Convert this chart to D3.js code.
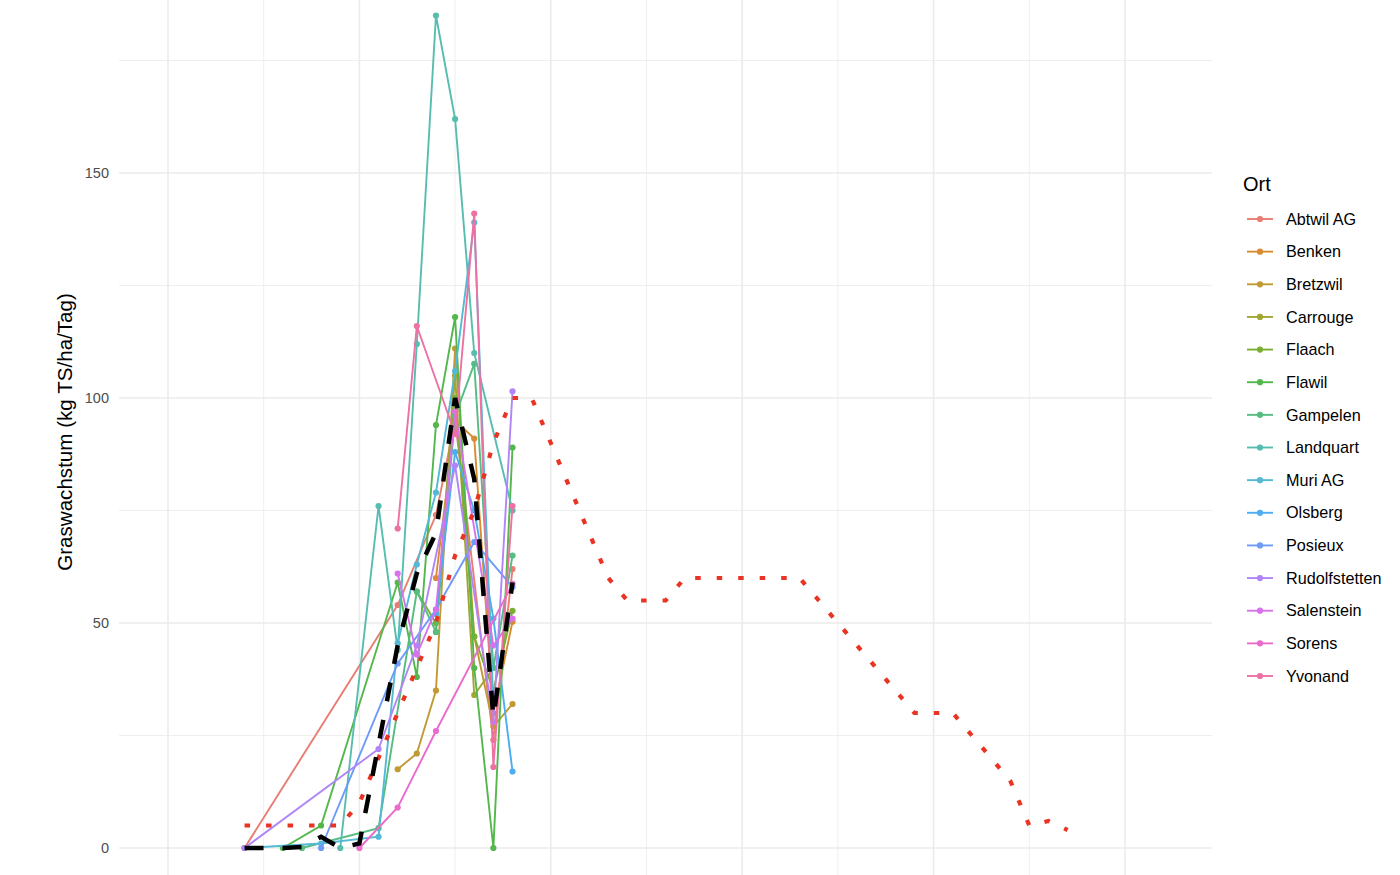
<!DOCTYPE html>
<html>
<head>
<meta charset="utf-8">
<script src="https://cdn.jsdelivr.net/npm/d3@7"></script>
<style>
  html, body { margin: 0; padding: 0; background: #ffffff; }
  svg { display: block; font-family: "Liberation Sans", Arial, Helvetica, sans-serif; }
</style>
</head>
<body>
<svg id="chart" width="1400" height="875"></svg>
<script>
// ---------------- data ----------------
const orte = ["Abtwil AG","Benken","Bretzwil","Carrouge","Flaach","Flawil","Gampelen","Landquart",
              "Muri AG","Olsberg","Posieux","Rudolfstetten","Salenstein","Sorens","Yvonand"];
const palette = ["#F8766D","#E58700","#C99800","#A3A500","#6BB100","#00BA38","#00BF7D","#00C0AF",
                 "#00BCD8","#00B0F6","#619CFF","#B983FF","#E76BF3","#FD61D1","#FF67A4"];
// calendar weeks of the measurements
const weeks = [4, 6, 7, 8, 9, 10, 11, 12, 13, 14, 15, 16, 17, 18];
// growth per site, aligned with weeks (null = no measurement)
const abtwil        = [0, null, null, null, null, null, null, 54, null, 74, 95, null, 24, 62];
const benken        = [null, null, null, null, null, null, null, null, null, 60, 95, 91, 30, 50.3];
const bretzwil      = [null, null, null, null, null, null, null, 17.5, 21, 35, 111, 47, 27, 32];
const carrouge      = [null, null, null, null, null, null, null, null, null, 48, 105, 34, 40, null];
const flaach        = [null, null, null, null, null, null, null, null, 57, 50, 100, 47, 35, 52.7];
const flawil        = [null, 0, null, 5, null, null, null, 59, 38, 94, 118, 40, 0, 89];
const gampelen      = [null, null, 0, null, null, null, 4.4, null, 57, 48, 96, 107.6, 40, 65];
const landquart     = [null, null, null, null, 0, null, 76, 44, 112, 185, 162, 110, null, 75];
const muri          = [0, null, null, 1, null, null, 2.5, 45.5, 63, 79, 106, 139, 32, null];
const olsberg       = [null, null, null, null, null, null, null, null, null, 52, 88, 75, 51, 17];
const posieux       = [null, null, null, 0, null, null, null, 41, null, 53, null, 68, null, 58];
const rudolfstetten = [0, null, null, null, null, null, 22, null, 45, null, 85, null, 28, 101.5];
const salenstein    = [null, null, null, null, null, null, null, 61, 43, 53, 97, null, 45, 51];
const sorens        = [null, null, null, null, null, 0, null, 9, null, 26, null, null, null, 58.7];
const yvonand       = [null, null, null, null, null, null, null, 71, 116, null, 92, 141, 18, 76];
const seriesValues = [abtwil, benken, bretzwil, carrouge, flaach, flawil, gampelen, landquart,
                      muri, olsberg, posieux, rudolfstetten, salenstein, sorens, yvonand];
// mean of all sites (black dashed)
const meanValues = [0, 0, 0.2, 2.5, 0, 1, 23, 45, 61, 70, 100, 82, 29, 59];
// reference curve (red dotted), weeks 4..47
const refWeeks  = d3.range(4, 48);
const refValues = [5, 5, 5, 5, 5, 5, 10, 20, 30, 40, 50, 65, 75, 90, 100, 100, 90, 80, 70, 60,
                   55, 55, 55, 60, 60, 60, 60, 60, 60, 60, 55, 50, 45, 40, 35, 30, 30, 30, 25, 20,
                   15, 5, 6, 4];
const yTicks = [0, 50, 100, 150];
const yTitle = "Graswachstum (kg TS/ha/Tag)";
const legendTitle = "Ort";

// the reference screenshot was taken on a wide-gamut (P3) screen: re-express sRGB colours that way
function toP3(hex) {
  const c = d3.rgb(hex);
  const lin = v => { v /= 255; return v <= 0.04045 ? v / 12.92 : Math.pow((v + 0.055) / 1.055, 2.4); };
  const enc = v => { v = Math.max(0, Math.min(1, v)); return 255 * (v <= 0.0031308 ? 12.92 * v : 1.055 * Math.pow(v, 1 / 2.4) - 0.055); };
  const r = lin(c.r), g = lin(c.g), b = lin(c.b);
  const R = 0.8225 * r + 0.1774 * g, G = 0.0332 * r + 0.9669 * g, B = 0.0171 * r + 0.0724 * g + 0.9108 * b;
  return d3.rgb(enc(R), enc(G), enc(B)).formatHex();
}
const colors = palette.map(toP3);
const refColor = toP3("#FF0000");

// ---------------- layout ----------------
const svg = d3.select("#chart");
const panel = {left: 119, right: 1212, top: 0, bottom: 875};
const x = d3.scaleLinear().domain([0, 50]).range([168, 1125]);
const y = d3.scaleLinear().domain([0, 150]).range([848, 173]);

const gridColor = "#EBEBEB";
const g = svg.append("g");

// minor grid
const xMinor = d3.range(-5, 60, 10).filter(v => x(v) >= panel.left && x(v) <= panel.right);
const yMinor = [25, 75, 125, 175];
g.selectAll(".xminor").data(xMinor).join("line")
  .attr("x1", d => x(d)).attr("x2", d => x(d)).attr("y1", panel.top).attr("y2", panel.bottom)
  .attr("stroke", gridColor).attr("stroke-width", 0.8);
g.selectAll(".yminor").data(yMinor).join("line")
  .attr("x1", panel.left).attr("x2", panel.right).attr("y1", d => y(d)).attr("y2", d => y(d))
  .attr("stroke", gridColor).attr("stroke-width", 0.8);
// major grid
const xMajor = x.ticks(5);
g.selectAll(".xmajor").data(xMajor).join("line")
  .attr("x1", d => x(d)).attr("x2", d => x(d)).attr("y1", panel.top).attr("y2", panel.bottom)
  .attr("stroke", gridColor).attr("stroke-width", 1.6);
g.selectAll(".ymajor").data(yTicks).join("line")
  .attr("x1", panel.left).attr("x2", panel.right).attr("y1", d => y(d)).attr("y2", d => y(d))
  .attr("stroke", gridColor).attr("stroke-width", 1.6);

// y axis labels via d3 axis
const yAxis = d3.axisLeft(y).tickValues(yTicks).tickSize(0).tickPadding(0).tickFormat(d3.format("d"));
const ya = svg.append("g").attr("transform", "translate(109,0)").call(yAxis);
ya.select(".domain").remove();
ya.selectAll("text").attr("fill", "#4D4D4D").style("font-size", "14.5px")
  .style("font-family", "'Liberation Sans', Arial, sans-serif");

svg.append("text")
  .attr("transform", "translate(72,432) rotate(-90)")
  .attr("text-anchor", "middle")
  .style("font-size", "20.6px").attr("fill", "#000")
  .text(yTitle);

// ---------------- series ----------------
const sg = svg.append("g");
seriesValues.forEach((vals, i) => {
  const pts = weeks.map((w, j) => ({w: w, v: vals[j]})).filter(d => d.v !== null);
  sg.append("path").datum(pts).attr("d", d3.line().x(d => x(d.w)).y(d => y(d.v)))
    .attr("fill", "none").attr("stroke", colors[i]).attr("stroke-width", 1.9);
  sg.selectAll(null).data(pts).join("circle")
    .attr("cx", d => x(d.w)).attr("cy", d => y(d.v)).attr("r", 3.1)
    .attr("fill", colors[i]);
});

// reference curve
const refPts = refWeeks.map((w, j) => ({w: w, v: refValues[j]}));
svg.append("path").datum(refPts).attr("d", d3.line().x(d => x(d.w)).y(d => y(d.v)))
  .attr("fill", "none").attr("stroke", refColor).attr("stroke-width", 4.2)
  .attr("stroke-dasharray", "5.5 16");

// mean
const meanPts = weeks.map((w, j) => ({w: w, v: meanValues[j]}));
svg.append("path").datum(meanPts).attr("d", d3.line().x(d => x(d.w)).y(d => y(d.v)))
  .attr("fill", "none").attr("stroke", "#000").attr("stroke-width", 4.5)
  .attr("stroke-dasharray", "19 19");

// ---------------- legend ----------------
const lg = svg.append("g");
lg.append("text").attr("x", 1243).attr("y", 191).style("font-size", "20px").attr("fill", "#000").text(legendTitle);
const ly = d3.scalePoint().domain(orte).range([219, 676]);
orte.forEach((o, i) => {
  const yy = ly(o);
  lg.append("line").attr("x1", 1247).attr("x2", 1273).attr("y1", yy).attr("y2", yy)
    .attr("stroke", colors[i]).attr("stroke-width", 1.9);
  lg.append("circle").attr("cx", 1260).attr("cy", yy).attr("r", 3.1).attr("fill", colors[i]);
  lg.append("text").attr("x", 1286).attr("y", yy).attr("dy", "0.35em")
    .style("font-size", "16.2px").attr("fill", "#000").text(o);
});
</script>
</body>
</html>
